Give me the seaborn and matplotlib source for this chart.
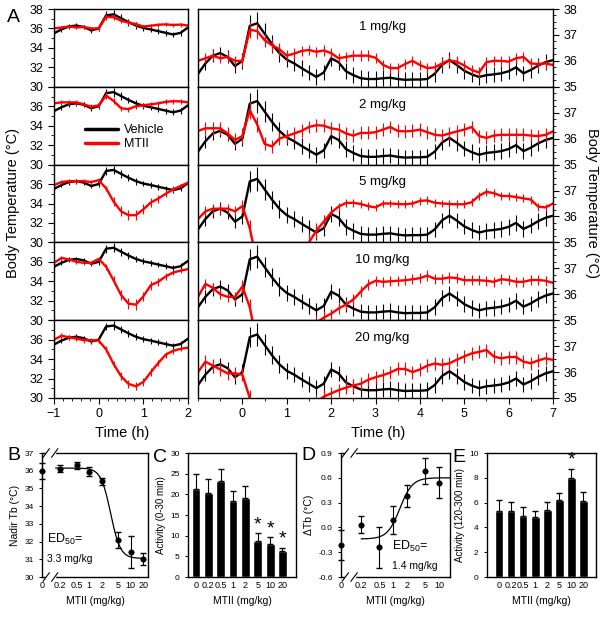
import numpy as np
import pandas as pd
import seaborn as sns
import matplotlib
matplotlib.use("Agg")
import matplotlib.pyplot as plt
from matplotlib.lines import Line2D
from matplotlib.ticker import MultipleLocator

# ---------------- data ----------------
time_min = np.arange(-60, 421, 10)
time_h = time_min / 60.0

vehicle = [35.5, 35.9, 36.2, 36.3, 36.15, 35.8,
           36.0, 37.35, 37.45, 37.05, 36.65, 36.3,
           36.05, 35.9, 35.72, 35.55, 35.38, 35.55,
           36.1, 35.95, 35.6, 35.45, 35.33, 35.3,
           35.3, 35.33, 35.35, 35.3, 35.27, 35.28,
           35.28, 35.3, 35.5, 35.85, 36.03, 35.84,
           35.62, 35.48, 35.38, 35.45, 35.48, 35.52,
           35.6, 35.75, 35.52, 35.65, 35.82, 35.95,
           36.03]
vehicle_sem = [0.25] * 6 + [0.3, 0.4, 0.45, 0.4, 0.35, 0.35] + [0.3] * 37

mtii_1 = [36.0, 36.1, 36.2, 36.1, 36.15, 36.0,
          36.0, 37.2, 37.15, 36.8, 36.6, 36.45,
          36.2, 36.28, 36.38, 36.42, 36.35, 36.4,
          36.3, 36.1, 36.15, 36.2, 36.2, 36.2,
          36.12, 35.85, 35.72, 35.72, 35.88, 36.0,
          35.84, 35.72, 35.75, 35.9, 36.02, 35.97,
          35.82, 35.65, 35.55, 35.95, 36.0, 36.0,
          35.97, 36.1, 36.15, 35.9, 35.88, 35.9,
          35.84]
mtii_2 = [36.3, 36.4, 36.4, 36.4, 36.2, 35.95,
          36.1, 37.1, 36.55, 35.8, 35.7, 36.0,
          36.1, 36.2, 36.3, 36.45, 36.52, 36.5,
          36.4, 36.35, 36.2, 36.12, 36.22, 36.22,
          36.25, 36.35, 36.45, 36.3, 36.28, 36.3,
          36.35, 36.25, 36.15, 36.12, 36.2, 36.28,
          36.35, 36.45, 36.1, 36.03, 36.12, 36.15,
          36.15, 36.15, 36.15, 36.12, 36.1, 36.15,
          36.28]
mtii_5 = [35.9, 36.2, 36.3, 36.3, 36.3, 36.2,
          36.4, 35.55, 34.2, 33.2, 32.8, 32.8,
          33.4, 34.1, 34.5, 35.0, 35.45, 35.8,
          36.15, 36.38, 36.52, 36.53, 36.48, 36.4,
          36.35, 36.5, 36.5, 36.48, 36.47, 36.5,
          36.6, 36.62, 36.53, 36.5, 36.48, 36.47,
          36.47, 36.55, 36.8, 36.95, 36.9, 36.79,
          36.79, 36.75, 36.7, 36.65, 36.38, 36.35,
          36.5]
mtii_10 = [35.9, 36.4, 36.25, 36.0, 35.9, 35.9,
           36.3, 35.5, 34.1, 32.6, 31.7, 31.6,
           32.45, 33.6, 33.95, 34.5, 34.9, 35.1,
           35.25, 35.45, 35.6, 35.8, 36.1, 36.38,
           36.52, 36.48, 36.5, 36.52, 36.54, 36.58,
           36.62, 36.72, 36.6, 36.6, 36.65, 36.62,
           36.54, 36.54, 36.54, 36.52, 36.48, 36.58,
           36.55, 36.48, 36.48, 36.55, 36.55, 36.52,
           36.44]
mtii_20 = [36.0, 36.4, 36.25, 36.1, 35.95, 35.95,
           35.9, 35.0, 33.5, 32.25, 31.45, 31.2,
           31.65, 32.65, 33.6, 34.45, 34.85, 35.05,
           35.18, 35.3, 35.4, 35.48, 35.55, 35.7,
           35.8, 35.88, 35.98, 36.12, 36.12, 36.0,
           36.1, 36.25, 36.33, 36.28, 36.34, 36.48,
           36.6, 36.72, 36.78, 36.85, 36.6, 36.53,
           36.58, 36.58, 36.4, 36.34, 36.45, 36.53,
           36.47]
sem_1 = [0.2] * 6 + [0.25, 0.3, 0.3, 0.25, 0.25, 0.25] + [0.2] * 37
sem_2 = [0.25] * 6 + [0.3, 0.35, 0.3, 0.25, 0.25, 0.25] + [0.25] * 37
sem_5 = [0.2] * 6 + [0.25, 0.3, 0.45, 0.5, 0.5, 0.5, 0.5, 0.45, 0.4, 0.35, 0.3, 0.25] + [0.15] * 31
sem_10 = [0.2] * 6 + [0.25, 0.3, 0.4, 0.5, 0.55, 0.55, 0.5, 0.45, 0.4, 0.35, 0.3, 0.25] + [0.2] * 31
sem_20 = [0.25] * 6 + [0.25, 0.3, 0.35, 0.4, 0.4, 0.4, 0.4, 0.4, 0.35, 0.3, 0.3, 0.25] + [0.25] * 31

row_labels = ["1 mg/kg", "2 mg/kg", "5 mg/kg", "10 mg/kg", "20 mg/kg"]
mtii_rows = [mtii_1, mtii_2, mtii_5, mtii_10, mtii_20]
sem_rows = [sem_1, sem_2, sem_5, sem_10, sem_20]

# dose-response panels
doses_b = [0, 0.2, 0.5, 1, 2, 5, 10, 20]
nadir_mean = [36.0, 36.1, 36.3, 35.95, 35.4, 32.1, 31.4, 31.0]
nadir_sem = [0.45, 0.2, 0.2, 0.25, 0.2, 0.45, 0.9, 0.35]
ed50_b, top_b, bottom_b, hill_b = 3.3, 36.15, 31.05, 3.7

dose_labels = ["0", "0.2", "0.5", "1", "2", "5", "10", "20"]
act_early = [21.3, 20.3, 23.2, 18.3, 19.1, 8.6, 8.0, 6.4]
act_early_sem = [3.5, 3.4, 2.9, 2.6, 2.8, 2.0, 1.7, 0.7]
early_sig = [False, False, False, False, False, True, True, True]

doses_d = [0, 0.2, 0.5, 1, 2, 5, 10]
dtb_mean = [-0.21, 0.035, -0.24, 0.09, 0.38, 0.68, 0.54]
dtb_sem = [0.18, 0.1, 0.25, 0.17, 0.13, 0.16, 0.19]
ed50_d, top_d, bottom_d, hill_d = 1.4, 0.60, -0.14, 3.2

act_late = [5.35, 5.35, 4.95, 4.8, 5.4, 6.25, 8.0, 6.1]
act_late_sem = [0.85, 0.7, 0.7, 0.55, 0.65, 0.5, 0.7, 0.75]
late_sig = [False, False, False, False, False, False, True, False]

# ---------------- style ----------------
sns.set_style("ticks")
plt.rcParams["font.family"] = ["Liberation Sans", "DejaVu Sans"]
plt.rcParams["mathtext.fontset"] = "custom"
plt.rcParams["mathtext.rm"] = "Liberation Sans"
for k in ["text.color", "axes.labelcolor", "xtick.color", "ytick.color", "axes.edgecolor"]:
    plt.rcParams[k] = "black"
plt.rcParams["axes.linewidth"] = 1.0

W, H = 604, 617
fig = plt.figure(figsize=(W / 100, H / 100), dpi=100)


def px_axes(x0, y0, x1, y1):
    return fig.add_axes([x0 / W, 1 - y1 / H, (x1 - x0) / W, (y1 - y0) / H])


def draw_series(ax, mtii, sem):
    ax.errorbar(time_h, vehicle, yerr=vehicle_sem, fmt="none", ecolor="black",
                elinewidth=0.8, zorder=2)
    sns.lineplot(x=time_h, y=vehicle, color="black", lw=1.7, ax=ax, zorder=2.1)
    ax.errorbar(time_h, mtii, yerr=sem, fmt="none", ecolor="red",
                elinewidth=0.8, zorder=2.2)
    sns.lineplot(x=time_h, y=mtii, color="red", lw=1.7, ax=ax, zorder=2.3)
    ax.set_xlabel("")
    ax.set_ylabel("")


row_h = 77.8
for i in range(5):
    top = 9 + i * row_h
    axL = px_axes(54, top, 188, top + row_h)
    axR = px_axes(198, top, 553, top + row_h)
    draw_series(axL, mtii_rows[i], sem_rows[i])
    draw_series(axR, mtii_rows[i], sem_rows[i])

    axL.set_xlim(-1, 2)
    axL.set_ylim(30, 38)
    axL.set_yticks([30, 32, 34, 36, 38])
    axL.set_yticklabels(["30", "32", "34", "36", "38" if i == 0 else ""])
    axL.yaxis.set_minor_locator(MultipleLocator(1))
    axL.set_xticks([-1, 0, 1, 2])
    axL.xaxis.set_minor_locator(MultipleLocator(0.2))

    axR.set_xlim(-1, 7)
    axR.set_ylim(35, 38)
    axR.yaxis.tick_right()
    axR.set_yticks([35, 36, 37, 38])
    axR.set_yticklabels(["35", "36", "37", "38" if i == 0 else ""])
    axR.yaxis.set_minor_locator(MultipleLocator(0.25))
    axR.set_xticks(range(0, 8))
    axR.xaxis.set_minor_locator(MultipleLocator(0.5))
    axR.text(0.52, 0.77, row_labels[i], transform=axR.transAxes,
             ha="center", va="center", fontsize=9.5)

    for ax in (axL, axR):
        ax.tick_params(which="major", labelsize=9, length=4, width=0.8)
        ax.tick_params(which="minor", length=2, width=0.6)
        if i < 4:
            ax.tick_params(axis="x", which="both", bottom=False, labelbottom=False)

    if i == 1:
        handles = [Line2D([], [], color="black", lw=2.5), Line2D([], [], color="red", lw=2.5)]
        axL.legend(handles, ["Vehicle", "MTII"], loc="lower left",
                   bbox_to_anchor=(0.15, 0.04), frameon=False, fontsize=9,
                   handlelength=2.6, handletextpad=0.5, labelspacing=0.15)

fig.text(13 / W, 1 - 203 / H, "Body Temperature (°C)", rotation=90,
         ha="center", va="center", fontsize=10.5)
fig.text(592 / W, 1 - 203 / H, "Body Temperature (°C)", rotation=270,
         ha="center", va="center", fontsize=10.5)
fig.text(122 / W, 1 - 433 / H, "Time (h)", ha="center", va="center", fontsize=10.5)
fig.text(378 / W, 1 - 433 / H, "Time (h)", ha="center", va="center", fontsize=10.5)


# ---------------- dose-response panels ----------------
def dose_scale(u0):
    lo = 0.2
    a = np.log10(lo)

    def fwd(x):
        x = np.asarray(x, dtype=float)
        lg = np.log10(np.where(x >= lo, x, lo))
        return np.where(x >= lo, lg, u0 + x / lo * (a - u0))

    def inv(u):
        u = np.asarray(u, dtype=float)
        return np.where(u >= a, 10.0 ** u, (u - u0) / (a - u0) * lo)

    return fwd, inv


def add_break(ax):
    for y in (0, 1):
        ax.plot([0.045, 0.115], [y, y], color="white", lw=2.5,
                transform=ax.transAxes, clip_on=False, zorder=5)
        for xc in (0.04, 0.12):
            ax.plot([xc - 0.03, xc + 0.03], [y - 0.035, y + 0.035], color="black",
                    lw=0.8, transform=ax.transAxes, clip_on=False, zorder=6)


def small_axes_style(ax):
    ax.tick_params(axis="y", labelsize=6, length=2.5, width=0.7)
    ax.tick_params(axis="x", labelsize=6.5, length=0, pad=3)


bottom_y0, bottom_y1 = 453, 577

# B
axB = px_axes(42, bottom_y0, 148, bottom_y1)
fwd, inv = dose_scale(-1.136)
axB.set_xscale("function", functions=(fwd, inv))
fit_x_b = np.logspace(np.log10(0.15), np.log10(20), 200)
fit_y_b = bottom_b + (top_b - bottom_b) / (1 + (fit_x_b / ed50_b) ** hill_b)
sns.lineplot(x=fit_x_b, y=fit_y_b, color="black", lw=0.9, ax=axB)
axB.errorbar(doses_b, nadir_mean, yerr=nadir_sem, fmt="none", ecolor="black",
             elinewidth=0.8, capsize=2, clip_on=False)
sns.scatterplot(x=doses_b, y=nadir_mean, color="black", s=16, ax=axB,
                zorder=3, clip_on=False, edgecolor="black")
axB.set_xlim(0, 10 ** 1.42)
axB.set_ylim(30, 37)
axB.set_xticks(doses_b)
axB.set_xticklabels(dose_labels)
axB.xaxis.set_minor_locator(plt.NullLocator())
axB.set_yticks(range(30, 38))
axB.set_ylabel("Nadir Tb (°C)", fontsize=7.5, labelpad=3)
axB.set_xlabel("MTII (mg/kg)", fontsize=7.5, labelpad=4)
axB.text(0.05, 0.30, r"ED$_{50}$=", transform=axB.transAxes, fontsize=9, va="center")
axB.text(0.05, 0.145, "3.3 mg/kg", transform=axB.transAxes, fontsize=7.5, va="center")
small_axes_style(axB)
add_break(axB)

# C
axC = px_axes(188, bottom_y0, 296, bottom_y1)
sns.barplot(x=dose_labels, y=act_early, order=dose_labels, color="black",
            saturation=1, width=0.72, errorbar=None, ax=axC)
axC.errorbar(range(len(dose_labels)), act_early, yerr=[[0] * 8, act_early_sem],
             fmt="none", ecolor="black", elinewidth=0.8, capsize=2)
for k, sig in enumerate(early_sig):
    if sig:
        axC.text(k, act_early[k] + act_early_sem[k] + 2.0, "*", ha="center",
                 va="center", fontsize=14)
axC.set_xlim(-0.65, 8.1)
axC.set_ylim(0, 30)
axC.set_yticks(range(0, 31, 5))
axC.set_ylabel("Activity (0-30 min)", fontsize=7, labelpad=3)
axC.set_xlabel("MTII (mg/kg)", fontsize=7.5, labelpad=4)
small_axes_style(axC)

# D
axD = px_axes(341, bottom_y0, 450, bottom_y1)
fwd, inv = dose_scale(-1.14)
axD.set_xscale("function", functions=(fwd, inv))
fit_x_d = np.logspace(np.log10(0.2), np.log10(17.4), 200)
fit_y_d = bottom_d + (top_d - bottom_d) / (1 + (ed50_d / fit_x_d) ** hill_d)
sns.lineplot(x=fit_x_d, y=fit_y_d, color="black", lw=0.9, ax=axD)
axD.errorbar(doses_d, dtb_mean, yerr=dtb_sem, fmt="none", ecolor="black",
             elinewidth=0.8, capsize=2, clip_on=False)
sns.scatterplot(x=doses_d, y=dtb_mean, color="black", s=16, ax=axD,
                zorder=3, clip_on=False, edgecolor="black")
axD.set_xlim(0, 10 ** 1.24)
axD.set_ylim(-0.6, 0.9)
axD.set_xticks(doses_d)
axD.set_xticklabels(dose_labels[:7])
axD.xaxis.set_minor_locator(plt.NullLocator())
axD.set_yticks([-0.6, -0.3, 0.0, 0.3, 0.6, 0.9])
axD.set_yticklabels(["-0.6", "-0.3", "0.0", "0.3", "0.6", "0.9"])
axD.set_ylabel("ΔTb (°C)", fontsize=7.5, labelpad=3)
axD.set_xlabel("MTII (mg/kg)", fontsize=7.5, labelpad=4)
axD.text(0.47, 0.25, r"ED$_{50}$=", transform=axD.transAxes, fontsize=9, va="center")
axD.text(0.47, 0.09, "1.4 mg/kg", transform=axD.transAxes, fontsize=7.5, va="center")
small_axes_style(axD)
add_break(axD)

# E
axE = px_axes(487, bottom_y0, 596, bottom_y1)
sns.barplot(x=dose_labels, y=act_late, order=dose_labels, color="black",
            saturation=1, width=0.72, errorbar=None, ax=axE)
axE.errorbar(range(len(dose_labels)), act_late, yerr=[[0] * 8, act_late_sem],
             fmt="none", ecolor="black", elinewidth=0.8, capsize=2)
for k, sig in enumerate(late_sig):
    if sig:
        axE.text(k, act_late[k] + act_late_sem[k] + 0.7, "*", ha="center",
                 va="center", fontsize=14)
axE.set_xlim(-1, 8.05)
axE.set_ylim(0, 10)
axE.set_yticks(range(0, 11, 2))
axE.set_ylabel("Activity (120-300 min)", fontsize=7, labelpad=3)
axE.set_xlabel("MTII (mg/kg)", fontsize=7.5, labelpad=4)
small_axes_style(axE)

for letter, x, y in [("A", 13, 18), ("B", 14, 456), ("C", 160, 458),
                     ("D", 308, 456), ("E", 459, 458)]:
    fig.text(x / W, 1 - y / H, letter, ha="center", va="center", fontsize=14)

fig.savefig("out.png", dpi=100)
